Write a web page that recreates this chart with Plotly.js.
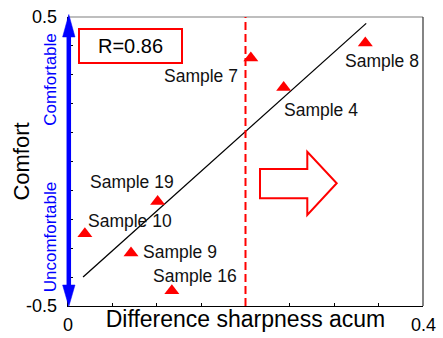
<!DOCTYPE html>
<html>
<head>
<meta charset="utf-8">
<script src="https://cdn.plot.ly/plotly-3.0.1.min.js"></script>
<style>html,body{margin:0;padding:0;background:#fff;}#chart{width:443px;height:338px;}</style>
</head>
<body>
<div id="chart"></div>
<script>
// ---- data ----
const sampleNames = ['Sample 7', 'Sample 8', 'Sample 4', 'Sample 19', 'Sample 10', 'Sample 9', 'Sample 16'];
const sharpness   = [0.206, 0.335, 0.243, 0.101, 0.019, 0.071, 0.117];
const comfort     = [0.358, 0.410, 0.256, -0.138, -0.250, -0.317, -0.447];
const fitX = [0.017, 0.336];
const fitY = [-0.400, 0.478];
const thresholdX = 0.2;
const rValue = 'R=0.86';
const xTickVals = [0, 0.05, 0.1, 0.15, 0.2, 0.25, 0.3, 0.35, 0.4];
const xTickText = ['0', '', '', '', '', '', '', '', '0.4'];
const yTickVals = [-0.5, -0.4, -0.3, -0.2, -0.1, 0, 0.1, 0.2, 0.3, 0.4, 0.5];
const yTickText = ['-0.5', '', '', '', '', '', '', '', '', '', '0.5'];

// ---- label placement (styling, pixels) ----
const labelPos = [
  {xa: 'right', dx: -11, dy: -18},
  {xa: 'left',  dx: -22, dy: -18},
  {xa: 'left',  dx: -2,  dy: -22},
  {xa: 'left',  dx: -70, dy: 19},
  {xa: 'left',  dx: 1,   dy: 13},
  {xa: 'left',  dx: 10,  dy: 1},
  {xa: 'left',  dx: -21, dy: 14.5}
];

const FONT = 'Arial, "Liberation Sans", sans-serif';
const W = 355, H = 289; // plot area in px
const px = v => v / W, py = v => v / H;

const traces = [
  {
    x: fitX, y: fitY, type: 'scatter', mode: 'lines',
    line: {color: '#000', width: 1.3}, hoverinfo: 'skip', showlegend: false
  },
  {
    x: sharpness, y: comfort, type: 'scatter', mode: 'markers',
    marker: {symbol: 'triangle-up', size: 13, color: '#ff0000', line: {width: 0}},
    text: sampleNames, showlegend: false
  }
];

const annotations = [];
sampleNames.forEach((n, i) => {
  annotations.push({
    x: sharpness[i], y: comfort[i], xref: 'x', yref: 'y', text: n, showarrow: false,
    xanchor: labelPos[i].xa, yanchor: 'middle', xshift: labelPos[i].dx, yshift: labelPos[i].dy,
    font: {family: FONT, size: 17.5, color: '#111'}
  });
});
xTickVals.forEach((v, i) => {
  if (xTickText[i]) annotations.push({
    x: v, y: 0, xref: 'x', yref: 'paper', text: xTickText[i], showarrow: false,
    xanchor: 'center', yanchor: 'middle', yshift: -19,
    font: {family: FONT, size: 18, color: '#000'}
  });
});
yTickVals.forEach((v, i) => {
  if (yTickText[i]) annotations.push({
    x: 0, y: v, xref: 'paper', yref: 'y', text: yTickText[i], showarrow: false,
    xanchor: 'right', yanchor: 'middle', xshift: -9,
    font: {family: FONT, size: 18, color: '#000'}
  });
});
annotations.push({
  x: px(130.8 - 68), y: 1 - py(46.2 - 17), xref: 'paper', yref: 'paper', text: rValue,
  showarrow: false, xanchor: 'center', yanchor: 'middle', width: 101, height: 32,
  bordercolor: '#ff0000', borderwidth: 2, borderpad: 0, bgcolor: '#fff',
  font: {family: FONT, size: 20, color: '#000'}
});
annotations.push({
  x: px(50.8 - 68), y: 1 - py(79 - 17), xref: 'paper', yref: 'paper', text: 'Comfortable',
  textangle: -90, showarrow: false, xanchor: 'center', yanchor: 'middle',
  font: {family: FONT, size: 17, color: '#0000ff'}
});
annotations.push({
  x: px(50.8 - 68), y: 1 - py(236.5 - 17), xref: 'paper', yref: 'paper', text: 'Uncomfortable',
  textangle: -90, showarrow: false, xanchor: 'center', yanchor: 'middle',
  font: {family: FONT, size: 17, color: '#0000ff'}
});

function poly(pts) {
  return 'M ' + pts.map(p => px(p[0] - 68) + ',' + (1 - py(p[1] - 17))).join(' L ') + ' Z';
}

const shapes = [
  // frame top / right
  {type: 'line', xref: 'paper', yref: 'paper', x0: 0, x1: 1, y0: 1, y1: 1, line: {color: '#7f7f7f', width: 1.2}},
  {type: 'line', xref: 'paper', yref: 'paper', x0: 1, x1: 1, y0: 0, y1: 1, line: {color: '#333', width: 1.2}},
  // threshold dashed line
  {type: 'line', xref: 'x', yref: 'paper', x0: thresholdX, x1: thresholdX, y0: 0, y1: 1,
   line: {color: '#ff0000', width: 2, dash: '8px,4px'}},
  // block arrow
  {type: 'path', xref: 'paper', yref: 'paper', layer: 'above',
   path: poly([[260,169],[307.3,169],[307.3,151.7],[336.7,183.3],[307.3,215],[307.3,198.3],[260,198.3]]),
   line: {color: '#ff0000', width: 2}, fillcolor: 'rgba(0,0,0,0)'},
  // blue double arrow shaft
  {type: 'line', xref: 'paper', yref: 'paper', x0: px(0.8), x1: px(0.8), y0: 1 - py(30 - 17), y1: 1 - py(292 - 17),
   line: {color: '#0000ff', width: 4.5}, layer: 'above'},
  {type: 'path', xref: 'paper', yref: 'paper', layer: 'above',
   path: poly([[68.8,14.5],[75,37],[62.6,37]]), line: {color: '#0000ff', width: 0.5}, fillcolor: '#0000ff'},
  {type: 'path', xref: 'paper', yref: 'paper', layer: 'above',
   path: poly([[68.8,306.5],[75,285],[62.6,285]]), line: {color: '#0000ff', width: 0.5}, fillcolor: '#0000ff'}
];

const layout = {
  width: 443, height: 338,
  margin: {l: 68, r: 20, t: 17, b: 32, pad: 0},
  paper_bgcolor: '#fff', plot_bgcolor: '#fff',
  font: {family: FONT, color: '#000'},
  showlegend: false,
  xaxis: {
    range: [0, 0.4], tickmode: 'array', tickvals: xTickVals, ticktext: xTickText,
    showticklabels: false, ticks: 'inside', ticklen: 3, tickcolor: '#000', tickwidth: 1,
    showline: true, linecolor: '#000', linewidth: 1.2, showgrid: false, zeroline: false,
    title: {text: 'Difference sharpness acum', font: {family: FONT, size: 23, color: '#000'}, standoff: 4}
  },
  yaxis: {
    range: [-0.5, 0.5], tickmode: 'array', tickvals: yTickVals, ticktext: yTickText,
    showticklabels: false, ticks: 'inside', ticklen: 5, tickcolor: '#000', tickwidth: 1,
    showline: true, linecolor: '#000', linewidth: 1, showgrid: false, zeroline: false,
    title: {text: 'Comfort', font: {family: FONT, size: 22, color: '#000'}, standoff: 31}
  },
  annotations: annotations,
  shapes: shapes
};

Plotly.newPlot('chart', traces, layout, {displayModeBar: false, staticPlot: true});
</script>
</body>
</html>
